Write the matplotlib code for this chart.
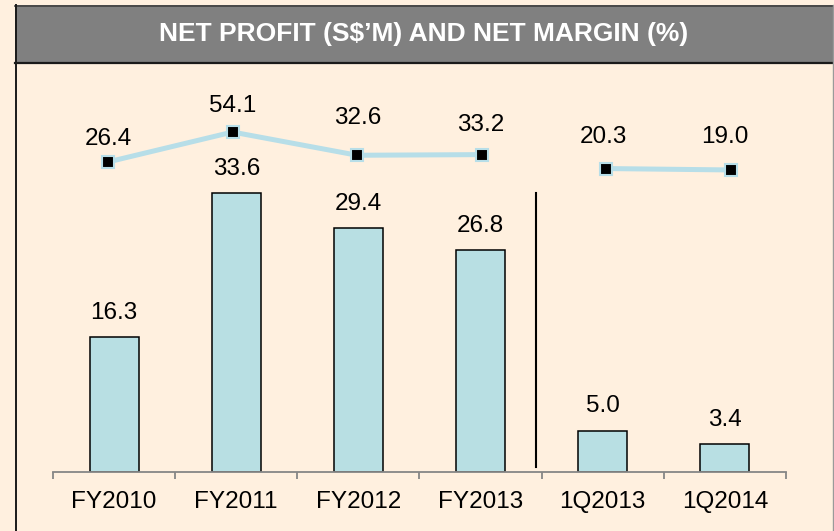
import matplotlib
matplotlib.use("Agg")
import matplotlib.pyplot as plt
from matplotlib.patches import Rectangle
from matplotlib.lines import Line2D

categories = ["FY2010", "FY2011", "FY2012", "FY2013", "1Q2013", "1Q2014"]
net_profit = [16.3, 33.6, 29.4, 26.8, 5.0, 3.4]
net_margin = [26.4, 54.1, 32.6, 33.2, 20.3, 19.0]
title = "NET PROFIT (S$\u2019M) AND NET MARGIN (%)"

# label placement (style, in pixels): offsets of margin labels from their markers
margin_label_dy = [17, 20, 31, 24, 26, 27]
margin_label_dx = [0, 0, 1, -1, -3, -6]

BG = "#FFF0DF"
BAR = "#B8DFE3"
LINE = "#B7DEE8"
FONT = "Liberation Sans"
FS = 17.5
PX = 0.72  # points per pixel at 100 dpi

W, H = 834, 531
fig = plt.figure(figsize=(W / 100, H / 100), dpi=100, facecolor=BG)

# title bar
fig.patches.append(Rectangle((15 / W, 1 - 63 / H), 1 - 15 / W, 58 / H,
                             transform=fig.transFigure, facecolor="#808080",
                             edgecolor="none", zorder=1))
fig.lines.append(Line2D([15 / W, 1], [1 - 5.5 / H, 1 - 5.5 / H], transform=fig.transFigure,
                        color="#404040", lw=1.2, zorder=2))
fig.lines.append(Line2D([15 / W, 1], [1 - 62.5 / H, 1 - 62.5 / H], transform=fig.transFigure,
                        color="#1a1a1a", lw=1.6, zorder=2))
# frame
fig.lines.append(Line2D([16 / W, 16 / W], [0, 1 - 5 / H], transform=fig.transFigure,
                        color="#1a1a1a", lw=1.4, zorder=2))
fig.lines.append(Line2D([832.5 / W, 832.5 / W], [0, 1 - 5 / H], transform=fig.transFigure,
                        color="#9a9a9a", lw=1.0, zorder=2))
fig.text(424 / W, 1 - 34 / H, title, color="white", fontsize=19, fontweight="bold",
         family=FONT, ha="center", va="center", zorder=3)

rect = [53 / W, 1 - 472 / H, 733 / W, 397 / H]
ax = fig.add_axes(rect)
ax.set_facecolor("none")
x = list(range(len(categories)))
ax.bar(x, net_profit, width=0.4, color=BAR, edgecolor="black", linewidth=1.1, zorder=2)
ax.set_xlim(-0.5, len(categories) - 0.5)
ax.set_ylim(0, 397 / 8.30)
for xi, v in zip(x, net_profit):
    ax.annotate(f"{v:.1f}", (xi, v), xytext=(0, 18 * PX), textcoords="offset points",
                ha="center", va="baseline", fontsize=FS, family=FONT, color="black")

for s in ["top", "right", "left"]:
    ax.spines[s].set_visible(False)
ax.spines["bottom"].set_color("#868686")
ax.spines["bottom"].set_linewidth(1.3)
ax.set_yticks([])
ax.set_xticks([i - 0.5 for i in range(len(categories) + 1)])
ax.set_xticklabels([])
ax.tick_params(axis="x", which="major", length=5, width=1.3, color="#868686", direction="out")
ax.set_xticks(x, minor=True)
ax.set_xticklabels(categories, minor=True, fontsize=FS, family=FONT)
ax.tick_params(axis="x", which="minor", length=0, pad=14)

# divider between annual and quarterly figures
ax.axvline(3.453, ymin=5 / 397, ymax=(472 - 193) / 397, color="black", lw=1.5, zorder=3)

# net margin line (own horizontal scale, as in the source chart)
ax2 = fig.add_axes(rect)
ax2.set_xlim(-0.441, 5.442)
ax2.set_ylim(-260.6, 106.9)
ax2.axis("off")
ax2.patch.set_visible(False)
for seg in (slice(0, 4), slice(4, 6)):
    ax2.plot(x[seg], net_margin[seg], color=LINE, lw=3.6, marker="s", markersize=8.5,
             markerfacecolor="black", markeredgecolor=LINE, markeredgewidth=1.5, zorder=4)
for xi, v, dx, dy in zip(x, net_margin, margin_label_dx, margin_label_dy):
    ax2.annotate(f"{v:.1f}", (xi, v), xytext=(dx * PX, dy * PX), textcoords="offset points",
                 ha="center", va="baseline", fontsize=FS, family=FONT, color="black")

fig.savefig("out.png", dpi=100, facecolor=BG)
